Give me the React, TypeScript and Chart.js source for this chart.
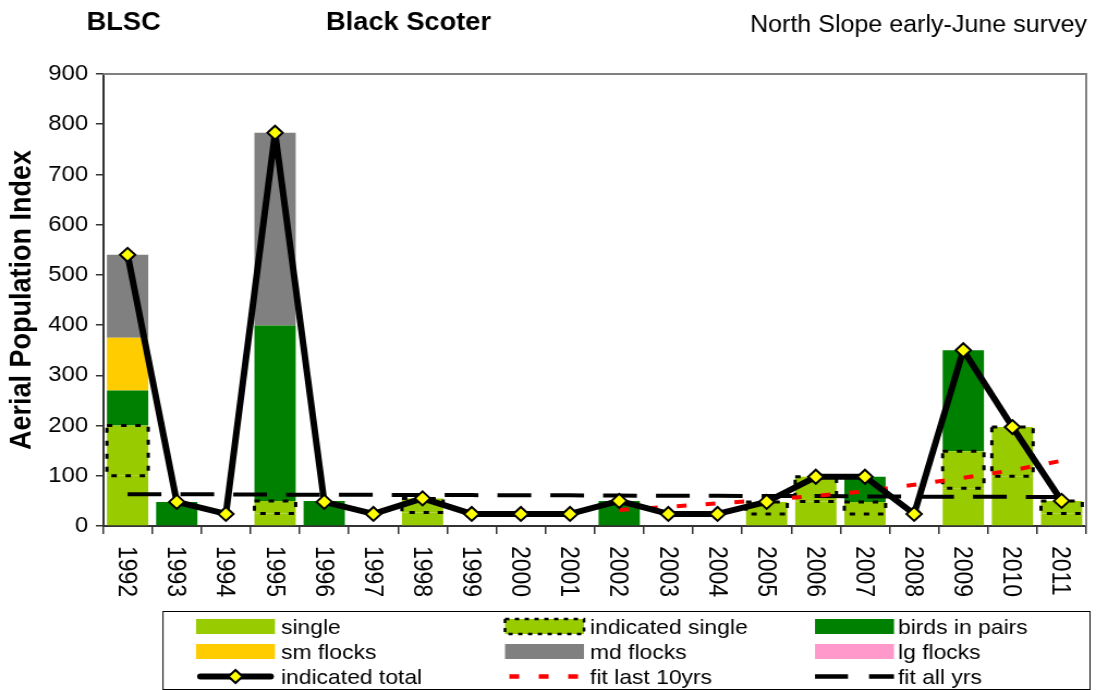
import React, { useEffect, useRef } from 'react';
import { Chart, registerables } from 'chart.js';

Chart.register(...registerables);

// ---------------- data ----------------
const YEARS = ['1992', '1993', '1994', '1995', '1996', '1997', '1998', '1999', '2000', '2001',
  '2002', '2003', '2004', '2005', '2006', '2007', '2008', '2009', '2010', '2011'];

const SINGLE = [100, 0, 0, 25, 0, 0, 27, 0, 0, 0, 0, 0, 0, 24, 49, 24, 0, 75, 99, 25];
const INDICATED_SINGLE = [100, 0, 0, 25, 0, 0, 28, 0, 0, 0, 0, 0, 0, 24, 49, 24, 0, 74, 98, 25];
const BIRDS_IN_PAIRS = [70, 48, 0, 349, 50, 0, 0, 0, 0, 0, 50, 0, 0, 0, 0, 50, 0, 201, 0, 0];
const SM_FLOCKS = [105, 0, 0, 0, 0, 0, 0, 0, 0, 0, 0, 0, 0, 0, 0, 0, 0, 0, 0, 0];
const MD_FLOCKS = [165, 0, 0, 384, 0, 0, 0, 0, 0, 0, 0, 0, 0, 0, 0, 0, 0, 0, 0, 0];
const LG_FLOCKS = [0, 0, 0, 0, 0, 0, 0, 0, 0, 0, 0, 0, 0, 0, 0, 0, 0, 0, 0, 0];
const INDICATED_TOTAL = [540, 48, 24, 783, 48, 24, 55, 24, 24, 24, 50, 24, 24, 48, 98, 98, 24, 350, 197, 50];
const FIT_LAST_10 = [null, null, null, null, null, null, null, null, null, null,
  32, 38, 45, 52, 60, 69, 82, 96, 111, 130];
const FIT_ALL = [63, 63, 63, 62.5, 62, 62, 61.5, 61.5, 61, 61, 60.5, 60, 60, 59.5, 59.5, 59, 58.5, 58, 58, 57.5];

const Y_MIN = 0;
const Y_MAX = 900;
const Y_STEP = 100;

const TITLE_CODE = 'BLSC';
const TITLE_NAME = 'Black Scoter';
const TITLE_SURVEY = 'North Slope early-June survey';
const Y_TITLE = 'Aerial Population Index';

// ---------------- geometry / style ----------------
const FAMILY = "'Liberation Sans', Arial, Helvetica, sans-serif";
const W = 1006;
const H = 690;
const SX = 1096 / W;
const ix = (x: number) => x / SX;

const C_SINGLE = '#99CC00';
const C_PAIRS = '#008000';
const C_SM = '#FFCC00';
const C_MD = '#808080';
const C_LG = '#FF99CC';

// dataset indices
const I_TOTAL = 0;
const I_SINGLE = 3;
const I_IND = 4;

const LEGEND_ORDER = [3, 4, 5, 6, 7, 8, 0, 1, 2];

function drawDiamond(ctx: CanvasRenderingContext2D, x: number, y: number, r: number) {
  ctx.beginPath();
  ctx.moveTo(x - r, y);
  ctx.lineTo(x, y - r);
  ctx.lineTo(x + r, y);
  ctx.lineTo(x, y + r);
  ctx.closePath();
  ctx.fillStyle = '#FFFF00';
  ctx.fill();
  ctx.lineWidth = 2;
  ctx.strokeStyle = '#000';
  ctx.setLineDash([]);
  ctx.stroke();
}

const overlayPlugin = {
  id: 'overlay',
  beforeDatasetsDraw(chart: any) {
    const { ctx, chartArea } = chart;
    ctx.save();
    ctx.strokeStyle = '#808080';
    ctx.lineWidth = 2;
    ctx.beginPath();
    ctx.moveTo(chartArea.left, chartArea.top);
    ctx.lineTo(chartArea.right, chartArea.top);
    ctx.lineTo(chartArea.right, chartArea.bottom);
    ctx.stroke();
    ctx.restore();
  },
  afterDatasetDraw(chart: any, args: any) {
    if (args.index !== I_SINGLE) return;
    const meta = chart.getDatasetMeta(I_IND);
    const values = chart.data.datasets[I_IND].data;
    const ctx = chart.ctx;
    ctx.save();
    ctx.strokeStyle = '#000';
    ctx.lineWidth = 3;
    ctx.setLineDash([5, 8]);
    meta.data.forEach((el: any, i: number) => {
      if (!values[i]) return;
      const p = el.getProps(['x', 'y', 'base', 'width'], true);
      const top = Math.min(p.y, p.base);
      const bot = Math.max(p.y, p.base);
      ctx.strokeRect(p.x - p.width / 2, top, p.width, bot - top);
    });
    ctx.restore();
  },
  afterDraw(chart: any) {
    const { ctx } = chart;
    ctx.save();
    // titles
    ctx.fillStyle = '#000';
    ctx.textAlign = 'left';
    ctx.textBaseline = 'alphabetic';
    ctx.font = `bold 25px ${FAMILY}`;
    ctx.fillText(TITLE_CODE, ix(86.5), 30);
    ctx.fillText(TITLE_NAME, ix(326), 30);
    ctx.font = `23px ${FAMILY}`;
    ctx.fillText(TITLE_SURVEY, ix(750), 31.5);

    // x labels, rotated clockwise
    const xs = chart.scales.x;
    ctx.font = `23px ${FAMILY}`;
    ctx.textBaseline = 'middle';
    chart.data.labels.forEach((lab: string, i: number) => {
      const x = xs.getPixelForTick(i) - 1.6;
      ctx.save();
      ctx.translate(x, 546);
      ctx.rotate(Math.PI / 2);
      ctx.fillText(lab, 0, 0);
      ctx.restore();
    });

    // legend
    ctx.strokeStyle = '#000';
    ctx.lineWidth = 1;
    ctx.setLineDash([]);
    ctx.strokeRect(ix(163), 611.5, ix(1090) - ix(163), 78);
    const colX = [196, 505, 815];
    const textX = [281, 590, 898];
    const rowY = [626.5, 651.5, 676.5];
    LEGEND_ORDER.forEach((di, k) => {
      const ds = chart.data.datasets[di];
      const c = k % 3;
      const r = Math.floor(k / 3);
      const x0 = ix(colX[c]);
      const x1 = ix(colX[c] + 79);
      const cy = rowY[r];
      ctx.save();
      if (ds.type === 'line') {
        if (di === I_TOTAL) {
          ctx.strokeStyle = '#000';
          ctx.lineWidth = 6;
          ctx.lineCap = 'round';
          ctx.beginPath();
          ctx.moveTo(x0 + 4, cy);
          ctx.lineTo(x1 - 4, cy);
          ctx.stroke();
          drawDiamond(ctx, (x0 + x1) / 2, cy, 6.5);
        } else {
          ctx.strokeStyle = ds.borderColor;
          ctx.lineWidth = 4.5;
          if (di === 1) {
            ctx.setLineDash([9, 18]);
            ctx.beginPath();
            ctx.moveTo(x0 + 4, cy);
            ctx.lineTo(x1, cy);
          } else {
            ctx.setLineDash([ix(33), ix(21)]);
            ctx.beginPath();
            ctx.moveTo(x0, cy);
            ctx.lineTo(x1, cy);
          }
          ctx.stroke();
        }
      } else {
        ctx.fillStyle = ds.backgroundColor;
        ctx.fillRect(x0, cy - 7.5, x1 - x0, 15);
        if (di === I_IND) {
          ctx.strokeStyle = '#000';
          ctx.lineWidth = 2.5;
          ctx.setLineDash([4, 5]);
          ctx.strokeRect(x0, cy - 7.5, x1 - x0, 15);
        }
      }
      ctx.restore();
      ctx.fillStyle = '#000';
      ctx.font = `21px ${FAMILY}`;
      ctx.textAlign = 'left';
      ctx.textBaseline = 'alphabetic';
      ctx.fillText(ds.label, ix(textX[c]), cy + 7);
    });
    ctx.restore();
  },
};

export default function App() {
  const ref = useRef<HTMLCanvasElement | null>(null);

  useEffect(() => {
    if (!ref.current) return;
    const barBase = { type: 'bar', order: 3, stack: 'bars', borderWidth: 0, barPercentage: 0.84, categoryPercentage: 1.0 };
    const chart = new Chart(ref.current, {
      type: 'bar',
      data: {
        labels: YEARS,
        datasets: [
          {
            type: 'line', label: 'indicated total', data: INDICATED_TOTAL, order: 0, stack: 'total',
            borderColor: '#000', borderWidth: 6, borderJoinStyle: 'round', borderCapStyle: 'round',
            pointStyle: 'rectRot', pointRadius: 7, pointHoverRadius: 7, pointBackgroundColor: '#FFFF00',
            pointBorderColor: '#000', pointBorderWidth: 2, tension: 0,
          },
          {
            type: 'line', label: 'fit last 10yrs', data: FIT_LAST_10, order: 1, stack: 'f10',
            borderColor: '#FF0000', borderWidth: 4, borderDash: [9, 17.5], pointRadius: 0, tension: 0,
          },
          {
            type: 'line', label: 'fit all yrs', data: FIT_ALL, order: 2, stack: 'fall',
            borderColor: '#000', borderWidth: 4, borderDash: [31, 17.5], pointRadius: 0, tension: 0,
          },
          { ...barBase, label: 'single', data: SINGLE, backgroundColor: C_SINGLE },
          { ...barBase, label: 'indicated single', data: INDICATED_SINGLE, backgroundColor: C_SINGLE },
          { ...barBase, label: 'birds in pairs', data: BIRDS_IN_PAIRS, backgroundColor: C_PAIRS },
          { ...barBase, label: 'sm flocks', data: SM_FLOCKS, backgroundColor: C_SM },
          { ...barBase, label: 'md flocks', data: MD_FLOCKS, backgroundColor: C_MD },
          { ...barBase, label: 'lg flocks', data: LG_FLOCKS, backgroundColor: C_LG },
        ] as any,
      },
      options: {
        animation: false,
        responsive: false,
        devicePixelRatio: 1,
        layout: { padding: { top: 74, right: W - ix(1087), bottom: 690 - 526 - 80, left: 0 } },
        plugins: { legend: { display: false }, tooltip: { enabled: false }, title: { display: false } },
        scales: {
          x: {
            stacked: true,
            offset: true,
            grid: { display: true, offset: true, drawOnChartArea: false, drawTicks: true, tickLength: 8, color: '#333', lineWidth: 1.5 },
            border: { display: true, color: '#333', width: 2 },
            ticks: { display: false },
            afterFit: (s: any) => { s.height = 80; },
          },
          y: {
            stacked: true,
            min: Y_MIN,
            max: Y_MAX,
            ticks: { stepSize: Y_STEP, font: { size: 22, family: FAMILY }, color: '#000', padding: 7 },
            grid: { display: true, drawOnChartArea: false, drawTicks: true, tickLength: 6.5, color: '#333', lineWidth: 1.5 },
            border: { display: true, color: '#333', width: 2 },
            title: { display: true, text: Y_TITLE, color: '#000', font: { size: 27, weight: 'bold', family: FAMILY }, padding: { top: 4, bottom: 0 } },
            afterFit: (s: any) => { s.width = ix(103); },
          },
        },
      } as any,
      plugins: [overlayPlugin],
    });
    return () => chart.destroy();
  }, []);

  return (
    <div style={{ position: 'fixed', left: 0, top: 0, width: 1096, height: 690, overflow: 'hidden', background: '#fff' }}>
      <div style={{ width: W, height: H, transform: `scaleX(${SX})`, transformOrigin: '0 0' }}>
        <canvas ref={ref} width={W} height={H} style={{ display: 'block', width: W, height: H }} />
      </div>
    </div>
  );
}
